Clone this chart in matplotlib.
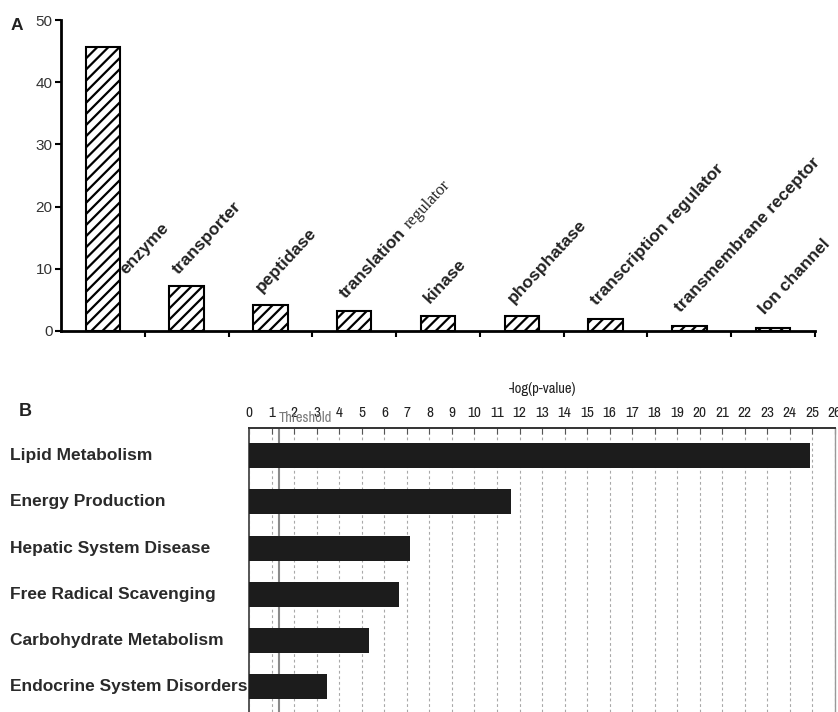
import numpy as np
import matplotlib
matplotlib.use("Agg")
import matplotlib.pyplot as plt
import matplotlib.transforms as mtransforms
from matplotlib import font_manager
from matplotlib.font_manager import FontProperties

plt.rcParams['font.family'] = ['Liberation Sans', 'DejaVu Sans']
plt.rcParams['hatch.linewidth'] = 1.6

# --- panel A: molecular function counts ---
functions = ['enzyme', 'transporter', 'peptidase', 'translation regulator', 'kinase',
             'phosphatase', 'transcription regulator', 'transmembrane receptor', 'Ion channel']
counts = [45.7, 7.3, 4.1, 3.2, 2.4, 2.4, 2.0, 0.85, 0.5]
count_ticks = [0, 10, 20, 30, 40, 50]

# --- panel B: top enriched categories ---
categories = ['Lipid Metabolism', 'Energy Production', 'Hepatic System Disease',
              'Free Radical Scavenging', 'Carbohydrate Metabolism', 'Endocrine System Disorders']
log_p = [24.9, 11.6, 7.15, 6.65, 5.3, 3.47]
threshold = 1.3
p_ticks = list(range(0, 27))

W, H = 838, 712
fig = plt.figure(figsize=(W / 100, H / 100), dpi=100)


def px(x0, y0, x1, y1):
    """axes rect from pixel box (left, top, right, bottom)"""
    return [x0 / W, 1 - y1 / H, (x1 - x0) / W, (y1 - y0) / H]


# narrow font for the p-value scale, if there is one
narrow = [f.name for f in font_manager.fontManager.ttflist
          if 'Condensed' in f.name or 'Narrow' in f.name]
scale_family = [narrow[0], 'DejaVu Sans'] if narrow else ['DejaVu Sans']

######## A ########
axA = fig.add_axes(px(61, 20, 815, 331))
xs = np.arange(len(functions))
axA.bar(xs, counts, width=0.41, color='white', edgecolor='black', hatch='///',
        linewidth=1.5, zorder=2)
axA.set_xlim(-0.5, len(functions) - 0.5)
axA.set_ylim(0, 50)
for s in ['top', 'right']:
    axA.spines[s].set_visible(False)
for s in ['left', 'bottom']:
    axA.spines[s].set_linewidth(2)
axA.set_yticks(count_ticks)
axA.tick_params(axis='y', length=4, width=1.5, labelsize=11, labelcolor='#333333', pad=2)
axA.set_xticks(np.arange(0.5, len(functions), 1))
axA.set_xticklabels([])
axA.tick_params(axis='x', length=4, width=1.5)

ang = 47
lab_font = FontProperties(family='Liberation Sans', weight='bold', size=12.5)
renderer = fig.canvas.get_renderer()
for i, (name, v) in enumerate(zip(functions, counts)):
    lx = i + 0.28 if v > 20 else i - 0.1
    ly = min(v, 7) + 2
    if name == 'translation regulator':
        first, second = 'translation', 'regulator'
        axA.text(lx, ly, first, rotation=ang, rotation_mode='anchor', ha='left',
                 va='baseline', fontproperties=lab_font, color='#222222')
        w, _, _ = renderer.get_text_width_height_descent(first, lab_font, ismath=False)
        w += 0.3 * 12.5 * 100 / 72
        off = mtransforms.offset_copy(axA.transData, fig=fig, x=w * np.cos(np.radians(ang)),
                                      y=w * np.sin(np.radians(ang)), units='dots')
        axA.text(lx, ly, second, rotation=ang, rotation_mode='anchor', ha='left',
                 va='baseline', transform=off, family=['Liberation Serif', 'DejaVu Serif'],
                 size=12, color='#222222')
    else:
        axA.text(lx, ly, name, rotation=ang, rotation_mode='anchor', ha='left',
                 va='baseline', fontproperties=lab_font, color='#222222')

fig.text(11 / W, 1 - 25 / H, 'A', weight='bold', size=12.5, ha='left', va='center',
         color='#222222')

######## B ########
axB = fig.add_axes(px(249.3, 428.3, 834.8, 712))
ys = np.arange(len(categories))
axB.barh(ys, log_p, height=0.54, color='#1c1c1c', zorder=3)
axB.set_xlim(0, 26)
axB.set_ylim(len(categories) - 0.45, -0.595)
axB.set_yticks([])
axB.set_xticks(p_ticks)
axB.xaxis.tick_top()
axB.tick_params(axis='x', direction='in', length=4, width=0.8, color='#555555',
                labelsize=11, labelcolor='#222222', pad=6)
for lbl in axB.get_xticklabels():
    lbl.set_family(scale_family)
axB.grid(axis='x', color='#a8a8a8', linestyle=(0, (2.5, 2.5)), linewidth=0.8, zorder=0)
axB.spines['bottom'].set_visible(False)
axB.spines['top'].set_linewidth(1.4)
axB.spines['top'].set_color('#333333')
axB.spines['left'].set_linewidth(1.4)
axB.spines['left'].set_color('#555555')
axB.spines['right'].set_linewidth(1.0)
axB.spines['right'].set_color('#999999')

axB.axvline(threshold, color='#8a8a8a', linewidth=1.5, zorder=1)
thr_tr = mtransforms.blended_transform_factory(axB.transData, fig.transFigure)
axB.text(threshold, 1 - 418 / H, 'Threshold', transform=thr_tr, ha='left', va='center',
         size=10.5, color='#7a7a7a', family=scale_family, clip_on=False)

fig.text(543 / W, 1 - 389 / H, '-log(p-value)', ha='center', va='center', size=10.5,
         color='#222222', family=scale_family)

lab_tr = mtransforms.blended_transform_factory(fig.transFigure, axB.transData)
for y, name in zip(ys, categories):
    axB.text(10 / W, y, name, transform=lab_tr, ha='left', va='center', weight='bold',
             size=12.5, color='#2a2a2a', clip_on=False)

fig.text(19 / W, 1 - 412 / H, 'B', weight='bold', size=13, ha='left', va='center',
         color='#222222')

fig.savefig('out.png', dpi=100)
